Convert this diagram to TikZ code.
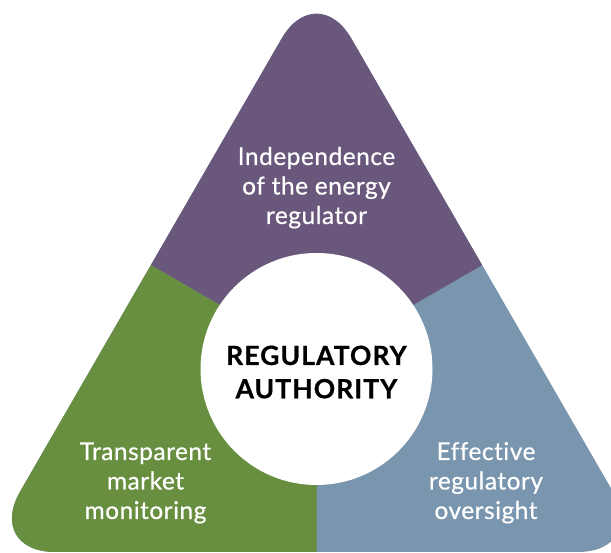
\documentclass[tikz,border=0pt]{standalone}
\usepackage{fontspec}
\setmainfont{Lato}
\newfontfamily\pillarfont{Lato}[FakeBold=0.5, LetterSpace=2, Ligatures=NoCommon]
\newfontfamily\hubfont{Lato Bold}[FakeBold=0.6, LetterSpace=4]
\usetikzlibrary{positioning}
\definecolor{regpurple}{HTML}{6A587C}
\definecolor{reggreen}{HTML}{678F3F}
\definecolor{regblue}{HTML}{7A95AE}

\begin{document}
\begin{tikzpicture}[x=1pt,y=1pt,
            pillar/.style={rounded corners=70pt},
            pillartext/.style={text=white, align=center, inner sep=0pt, anchor=base, font=\pillarfont\fontsize{24.5}{29.5}\selectfont},
            hubdisc/.style={circle, fill=white, minimum size=232pt, inner sep=0pt},
            hubtext/.style={text=black, align=center, inner sep=0pt, anchor=base, font=\hubfont\fontsize{26.5}{33.3}\selectfont},
            ]
            \useasboundingbox (0,0) rectangle (611,553);
            \clip (0,0) rectangle (611,553);

            %Corners and midpoints
            \coordinate (apex)  at (316.5,574.8);
            \coordinate (left)  at (-14.8,1);
            \coordinate (right) at (647.8,1);
            \coordinate (mid)   at (316.5,192);
            \coordinate (midl)  at (150.85,287.9);
            \coordinate (midr)  at (482.15,287.9);
            \coordinate (midb)  at (316.5,1);

            %Pillars
            \fill[regblue, pillar] (midb) -- (right) -- (apex) -- (left) -- cycle;
            \begin{scope}
                \clip (mid) -- (midl) -- (-300,700) -- (900,700) -- (midr) -- cycle;
                \fill[regpurple, pillar] (midb) -- (right) -- (apex) -- (left) -- cycle;
            \end{scope}
            \begin{scope}
                \clip (mid) -- (midl) -- (-300,287.9) -- (-300,-100) -- (316.5,-100) -- (midb) -- cycle;
                \fill[reggreen, pillar] (midb) -- (right) -- (apex) -- (left) -- cycle;
            \end{scope}

            %Nodes (base = last line)
            \node[hubdisc]                (hub)      at (316.5,184)   {};
            \node[hubtext]                (hubtitle) at (316.5,154.7) {REGULATORY\\AUTHORITY};
            \node[pillartext]             (indep)    at (316.5,329)   {Independence\\of the energy\\regulator};
            \node[pillartext]             (trans)    at (145.5,34)    {Transparent\\market\\monitoring};
            \node[pillartext]             (effect)   at (486,34)      {Effective\\regulatory\\oversight};

        \end{tikzpicture}
\end{document}
